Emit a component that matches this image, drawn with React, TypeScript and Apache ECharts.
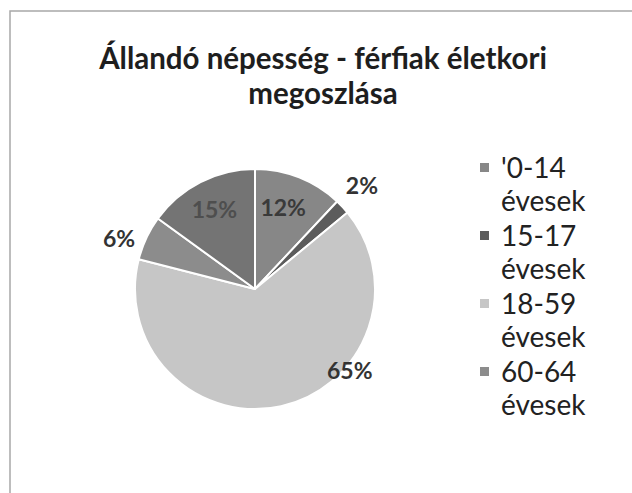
import React, { useEffect, useRef } from "react";
import * as echarts from "echarts";

const categories = ["'0-14 évesek", "15-17 évesek", "18-59 évesek", "60-64 évesek", "65- évesek"];
const shares = [12, 2, 65, 6, 15];
const legendShown = ["'0-14 évesek", "15-17 évesek", "18-59 évesek", "60-64 évesek"];
const sliceColors = ["#878787", "#5c5c5c", "#c6c6c6", "#8c8c8c", "#747474"];
const labelColors = ["#3a3a3a", "#333333", "#333333", "#333333", "#4e4e4e"];
const titleText = "Állandó népesség - férfiak életkori\nmegoszlása";

// label nudges relative to default inside position (layout only)
const labelDX = [5, 61, 81, -79, -12];
const labelDY = [-23, -61, 20, -24, -24];

export default function App() {
  const ref = useRef<HTMLDivElement>(null);
  useEffect(() => {
    document.body.style.margin = "0";
    const chart = echarts.init(ref.current!, null, { renderer: "svg" });
    const font = "Lato, 'Open Sans', sans-serif";
    chart.setOption({
      animation: false,
      backgroundColor: "#ffffff",
      title: {
        text: titleText,
        left: 323,
        top: 40,
        padding: 0,
        textAlign: "center",
        textStyle: { fontFamily: font, fontWeight: "bold", fontSize: 29.5, lineHeight: 35, color: "#1e1e1e" },
      },
      graphic: [
        {
          type: "rect",
          shape: { x: 10, y: 11, width: 700, height: 600 },
          style: { fill: "none", stroke: "#a8a8a8", lineWidth: 1.5 },
          silent: true,
        },
      ],
      legend: {
        orient: "vertical",
        left: 478,
        top: 150,
        padding: 0,
        data: legendShown,
        itemGap: 0,
        itemWidth: 17,
        itemHeight: 66,
        icon: "path://M0,0h0.01v0.01h-0.01z M0,11h11v11h-11z M17,66h0.01v0.01h-0.01z",
        formatter: (n: string) => n.replace(" ", "\n"),
        textStyle: { fontFamily: font, fontSize: 28, lineHeight: 33, color: "#222222" },
        selectedMode: false,
      },
      series: [
        {
          type: "pie",
          center: [255, 289],
          radius: 120,
          startAngle: 90,
          clockwise: true,
          itemStyle: { borderColor: "#ffffff", borderWidth: 2 },
          label: {
            show: true,
            position: "inside",
            formatter: (p: any) => p.value + "%",
            fontFamily: font,
            fontWeight: "bold",
            fontSize: 23,
          },
          labelLine: { show: false },
          labelLayout: (p: any) => ({ dx: labelDX[p.dataIndex], dy: labelDY[p.dataIndex] }),
          data: categories.map((c, i) => ({
            name: c,
            value: shares[i],
            itemStyle: { color: sliceColors[i] },
            label: { color: labelColors[i] },
          })),
        },
      ],
    });
    return () => chart.dispose();
  }, []);
  return <div ref={ref} style={{ width: 632, height: 493, overflow: "hidden" }} />;
}
